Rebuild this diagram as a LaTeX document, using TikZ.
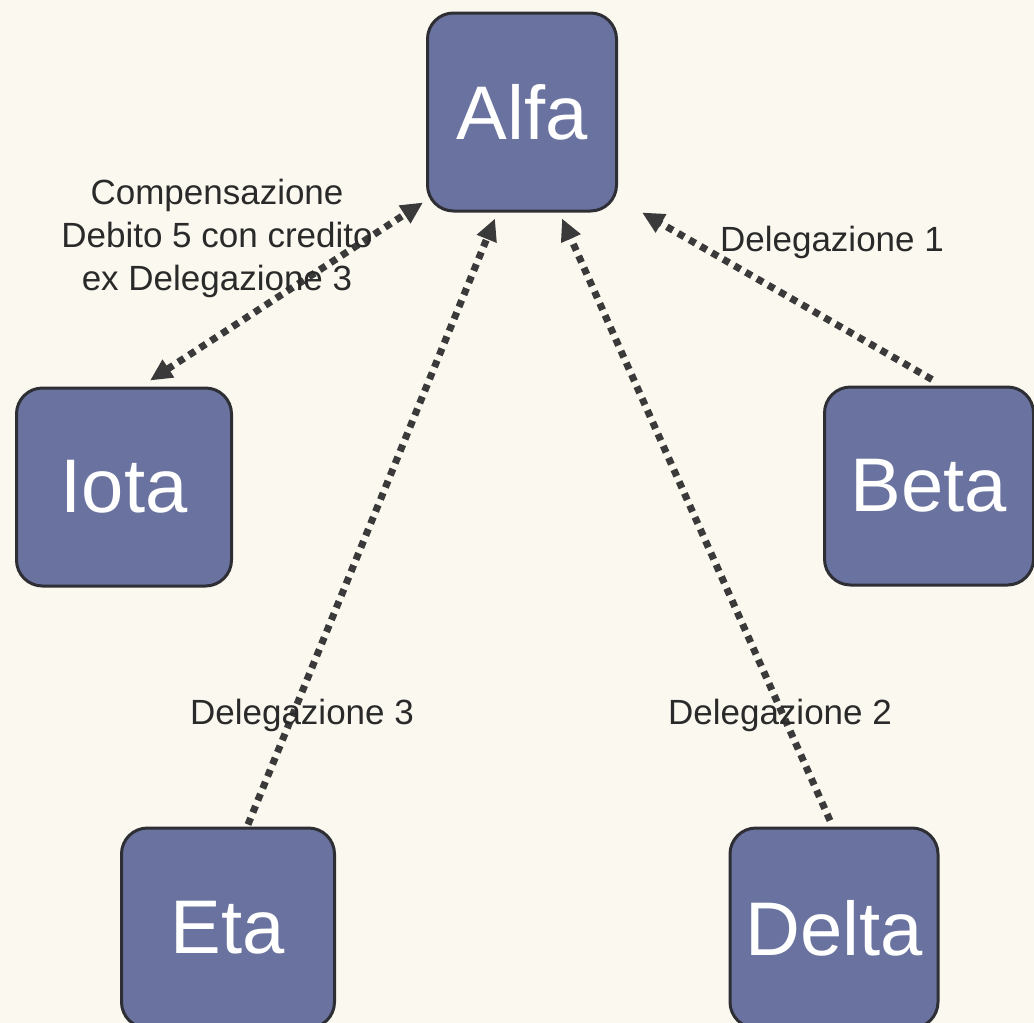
\documentclass[tikz,border=0pt]{standalone}
\usepackage{fontspec}
\setmainfont{Liberation Sans}
\usetikzlibrary{arrows.meta}
\definecolor{bg}{HTML}{FBF8EF}
\definecolor{boxfill}{HTML}{6A739F}
\definecolor{boxline}{HTML}{2E2E35}
\definecolor{conn}{HTML}{3A3A3A}
\definecolor{txt}{HTML}{2A2A2A}
\begin{document}
\begin{tikzpicture}[x=1pt,y=-1pt,
  entity/.style={draw=boxline, line width=3pt, fill=boxfill, rounded corners=26pt,
    minimum width=210pt, minimum height=198pt, inner sep=0pt, text=white,
    font=\fontsize{76}{80}\selectfont},
  link/.style={draw=conn, line width=7pt, dash pattern=on 7pt off 6pt,
    -{Triangle[length=22pt,width=20pt]}},
  biglink/.style={link, {Triangle[length=22pt,width=20pt]}-{Triangle[length=22pt,width=20pt]}},
  lbl/.style={text=txt, font=\fontsize{35}{43}\selectfont, align=center, inner sep=0pt}]
\useasboundingbox (0,0) rectangle (1034,1023);
\fill[bg] (0,0) rectangle (1034,1023);
\begin{scope}
\clip (0,0) rectangle (1034,1023);
\node[entity, minimum width=189pt] (alfa) at (522,112) {Alfa};
\node[entity, minimum width=215pt] (iota) at (124,487) {Iota};
\node[entity, minimum width=209pt] (beta) at (929,486) {Beta};
\node[entity, minimum width=213pt, minimum height=200pt] (eta) at (228,928) {Eta};
\node[entity, minimum width=208pt, minimum height=200pt] (delta) at (834,928) {Delta};

\draw[biglink] ([xshift=26pt,yshift=6pt]iota.north) -- ([xshift=-3pt,yshift=10pt]alfa.south west);
\draw[link] ([xshift=3pt,yshift=6pt]beta.north) -- ([xshift=24pt]alfa.south east);
\draw[link] ([xshift=20pt,yshift=2pt]eta.north) -- ([xshift=-27pt,yshift=-6pt]alfa.south);
\draw[link] ([xshift=-4pt,yshift=6pt]delta.north) -- ([xshift=40pt,yshift=-6pt]alfa.south);

\node[lbl] (comp) at (217,238) {Compensazione\\Debito 5 con credito\\ex Delegazione 3};
\node[lbl] (d1) at (832,242) {Delegazione 1};
\node[lbl] (d3) at (302,715) {Delegazione 3};
\node[lbl] (d2) at (780,715) {Delegazione 2};
\end{scope}
\end{tikzpicture}
\end{document}
